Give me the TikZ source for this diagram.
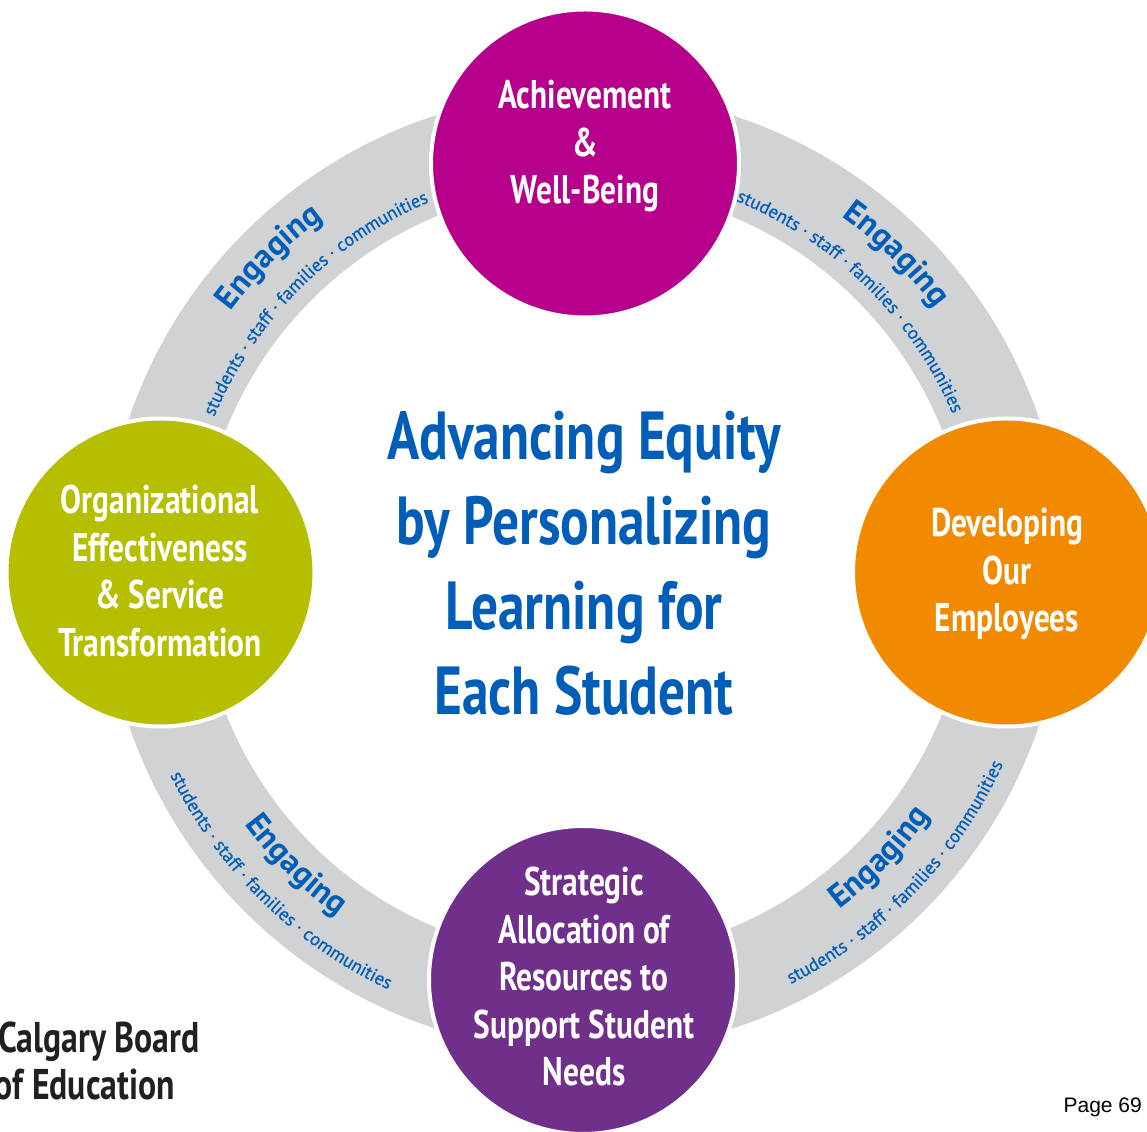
\documentclass[tikz,border=0pt]{standalone}
\usepackage{fontspec}
\setmainfont{PT Sans}
\newfontfamily\condfont{PT Sans}[FakeStretch=0.785]
\newfontfamily\subfont{PT Sans}[FakeBold=0.6]
\newfontfamily\arialfont{Liberation Sans}
\usetikzlibrary{decorations.text}
\definecolor{magentaC}{HTML}{B6008B}
\definecolor{orangeC}{HTML}{F28A00}
\definecolor{oliveC}{HTML}{B6BE00}
\definecolor{purpleC}{HTML}{702F8A}
\definecolor{ringgray}{HTML}{D1D2D4}
\definecolor{engblue}{HTML}{005EB8}
\definecolor{darktext}{HTML}{231F20}
\newcommand\engfmt{\color{engblue}\bfseries\fontsize{33}{38}\selectfont}
\newcommand\subfmt{\color{engblue}\subfont\fontsize{18.5}{20}\selectfont}
\begin{document}
\begin{tikzpicture}[x=1pt,y=1pt,
  goal/.style={circle, minimum size=308pt, inner sep=0pt, draw=white, line width=4pt},
  goaltext/.style={text=white, font=\condfont\bfseries\fontsize{40}{47.5}\selectfont, align=center},
  titletext/.style={text=engblue, font=\condfont\bfseries\fontsize{68}{85}\selectfont, align=center},
  cbetext/.style={text=darktext, font=\condfont\bfseries\fontsize{43}{47}\selectfont, inner sep=0pt},
  engarc/.style={decorate, decoration={text along path, text align=center, text={|\engfmt|Engaging}}},
  subarc/.style={decorate, decoration={text along path, text align=center, text={|\subfmt|students · staff · families · communities}}}
]
\useasboundingbox (0,0) rectangle (1147,1131);
\clip (0,0) rectangle (1147,1131);
\coordinate (C) at (584,559);
\fill[ringgray, even odd rule] (C) circle[radius=480] (C) circle[radius=385];

\begin{scope}[shift={(584,559)}]
  % top-left
  \path[engarc] (165:439) arc[start angle=165, end angle=105, radius=439];
  \path[subarc] (170:401) arc[start angle=170, end angle=100, radius=401];
  % top-right
  \path[engarc] (75.5:439) arc[start angle=75.5, end angle=15.5, radius=439];
  \path[subarc] (80.5:401) arc[start angle=80.5, end angle=10.5, radius=401];
  % bottom-left
  \path[engarc] (195.5:423) arc[start angle=195.5, end angle=255.5, radius=423];
  \path[subarc] (190.5:461) arc[start angle=190.5, end angle=260.5, radius=461];
  % bottom-right
  \path[engarc] (286:423) arc[start angle=286, end angle=346, radius=423];
  \path[subarc] (281:461) arc[start angle=281, end angle=351, radius=461];
\end{scope}

\node[goal, fill=magentaC] (achieve) at (585,967.5) {};
\node[goal, fill=oliveC] (org) at (160.5,558.5) {};
\node[goal, fill=orangeC] (dev) at (1007,558.5) {};
\node[goal, fill=purpleC] (strat) at (583,151) {};

\node[goaltext] (achievetxt) at (585,984.5) {Achievement\\\&\\Well-Being};
\node[goaltext] (orgtxt) at (160,560) {Organizational\\Effectiveness\\\& Service\\Transformation};
\node[goaltext] (devtxt) at (1007,557) {Developing\\Our\\Employees};
\node[goaltext] (strattxt) at (584,154) {Strategic\\Allocation of\\Resources to\\Support Student\\Needs};

\node[titletext] (title) at (584,568) {Advancing Equity\\by Personalizing\\Learning for\\Each Student};

\node[cbetext, anchor=base east] (cbe1) at (200,78) {Calgary Board};
\node[cbetext, anchor=base east] (cbe2) at (175,31) {of Education};
\node[inner sep=0pt, anchor=base east, font=\arialfont\fontsize{21}{24}\selectfont, text=black] (page) at (1142,18) {Page 69};
\end{tikzpicture}
\end{document}
